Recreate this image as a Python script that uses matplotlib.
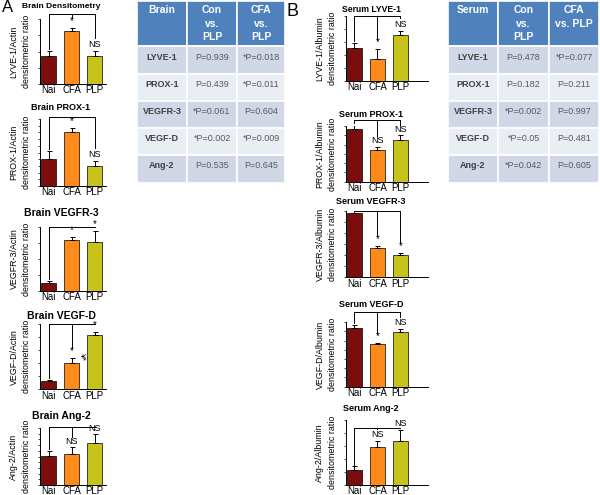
import matplotlib
matplotlib.use("Agg")
import matplotlib.pyplot as plt
from matplotlib.patches import Rectangle

plt.rcParams['font.family'] = ['Liberation Sans', 'DejaVu Sans']

# ---------------- data ----------------
groups = ["Nai", "CFA", "PLP"]
bar_colors = ["#7B0D0D", "#FF8A1C", "#C7C21C"]

brain_titles = ["Brain Densitometry", "Brain PROX-1", "Brain VEGFR-3", "Brain VEGF-D", "Brain Ang-2"]
brain_ylabels = ["LYVE-1/Actin", "PROX-1/Actin", "VEGFR-3/Actin", "VEGF-D/Actin", "Ang-2/Actin"]
brain_means = [[1.73, 3.27, 1.73], [0.41, 0.80, 0.30], [0.49, 3.20, 3.04], [0.64, 2.03, 4.15], [0.51, 0.55, 0.74]]
brain_errs = [[0.31, 0.20, 0.31], [0.11, 0.07, 0.08], [0.12, 0.19, 0.74], [0.08, 0.35, 0.25], [0.09, 0.11, 0.15]]
brain_ymax = [4, 1, 4, 5, 1]
brain_marks = [["", "*", "NS"], ["", "*", "NS"], ["", "*", "*"], ["", "*", "*"], ["", "NS", "NS"]]

serum_titles = ["Serum LYVE-1", "Serum PROX-1", "Serum VEGFR-3", "Serum VEGF-D", "Serum Ang-2"]
serum_ylabels = ["LYVE-1/Albumin", "PROX-1/Albumin", "VEGFR-3/Albumin", "VEGF-D/Albumin", "Ang-2/Albumin"]
serum_means = [[2.54, 1.64, 3.54], [5.71, 3.46, 4.46], [5.82, 2.64, 2.03], [6.41, 4.61, 5.90], [1.12, 2.90, 3.40]]
serum_errs = [[0.33, 0.77, 0.31], [0.40, 0.29, 0.54], [0.51, 0.18, 0.17], [0.29, 0.11, 0.40], [0.28, 0.48, 0.80]]
serum_ymax = [5, 6, 6, 7, 5]
serum_marks = [["", "*", "NS"], ["", "NS", "NS"], ["", "*", "*"], ["", "*", "NS"], ["", "NS", "NS"]]

table_rows = ["LYVE-1", "PROX-1", "VEGFR-3", "VEGF-D", "Ang-2"]
brain_header = ["Brain", "Con\nvs.\nPLP", "CFA\nvs.\nPLP"]
brain_con_p = ["P=0.939", "P=0.439", "*P=0.061", "*P=0.002", "P=0.535"]
brain_cfa_p = ["*P=0.018", "*P=0.011", "P=0.604", "*P=0.009", "P=0.645"]
serum_header = ["Serum", "Con\nvs.\nPLP", "CFA\nvs. PLP"]
serum_con_p = ["P=0.478", "P=0.182", "*P=0.002", "*P=0.05", "*P=0.042"]
serum_cfa_p = ["*P=0.077", "P=0.211", "P=0.997", "P=0.481", "P=0.605"]

# ---------------- layout (pixels) ----------------
W, H = 600, 495
fig = plt.figure(figsize=(6.0, 4.95), dpi=100)
fig.patch.set_facecolor("white")

bg = fig.add_axes([0, 0, 1, 1], zorder=0)
bg.set_xlim(0, W)
bg.set_ylim(H, 0)
bg.axis("off")

A_x = (40, 106)
B_x = (346, 428)
A_y = [(19, 84), (119, 186), (227, 290.7), (324, 389.3), (428, 485)]
B_y = [(15.7, 80.7), (126, 181.7), (211, 277.3), (322.3, 386.7), (420, 484.5)]
A_title_y = [7, 107, 213, 316, 416]
B_title_y = [9.5, 114.5, 201, 304.5, 408.5]
A_title_fs = [6.0, 6.5, 7.5, 7.5, 7.5]
B_title_fs = [6.2, 6.5, 6.5, 6.5, 6.5]
A_bracket = [1.075, 1.03, 1.0, 1.0, 1.02]
B_bracket = [1.0, 1.1, 1.0, 1.16, 0.88]


def add_ax(xr, yr):
    l = xr[0] / W
    b = 1 - yr[1] / H
    w = (xr[1] - xr[0]) / W
    h = (yr[1] - yr[0]) / H
    return fig.add_axes([l, b, w, h], zorder=2)


def draw_panel(xr, yr, xmax, means, errs, ymax, marks, ylabel, bfrac):
    ax = add_ax(xr, yr)
    xs = list(range(len(groups)))
    ax.bar(xs, means, width=0.65, color=bar_colors, edgecolor="black", linewidth=0.5,
           yerr=[[0] * len(errs), errs],
           error_kw=dict(ecolor="black", elinewidth=0.7, capsize=1.8, capthick=0.7))
    ax.set_xlim(-0.37, xmax)
    ax.set_ylim(0, ymax)
    for s in ("top", "right"):
        ax.spines[s].set_visible(False)
    for s in ("left", "bottom"):
        ax.spines[s].set_linewidth(0.7)
    ax.set_xticks(xs)
    ax.set_xticklabels(groups, fontsize=7)
    ax.tick_params(axis="x", length=0, pad=1)
    ax.tick_params(axis="y", length=1.5, width=0.5, labelleft=False)
    ax.set_yticks(range(0, int(ymax) + 1) if ymax > 1 else [i / 10 for i in range(11)])
    ax.set_ylabel(ylabel + "\ndensitometric ratio", fontsize=6.4, labelpad=5, linespacing=1.5)
    gap = 0.03 * ymax
    tops = []
    for i, (m, e, mk) in enumerate(zip(means, errs, marks)):
        top = m + e
        if mk == "*":
            ax.text(i, top + gap, mk, ha="center", va="bottom", fontsize=7, clip_on=False)
            top = top + gap + 0.09 * ymax
        elif mk:
            ax.text(i, top + gap, mk, ha="center", va="bottom", fontsize=6.5, clip_on=False)
            top = top + gap + 0.13 * ymax
        tops.append(top + gap)
    by = bfrac * ymax
    ax.plot([0, 2], [by, by], color="black", lw=0.7, clip_on=False)
    for i, t in enumerate(tops):
        if t < by:
            ax.plot([i, i], [by, t], color="black", lw=0.7, clip_on=False)
    return ax


for k in range(5):
    axA = draw_panel(A_x, A_y[k], 2.5, brain_means[k], brain_errs[k], brain_ymax[k],
                     brain_marks[k], brain_ylabels[k], A_bracket[k])
    bg.text(61, A_title_y[k], brain_titles[k], ha="center", va="center",
            fontsize=A_title_fs[k], fontweight="bold")
    if k == 3:
        ymx = brain_ymax[k]
        axA.text(1.42, brain_means[k][1] + brain_errs[k][1] + 0.02 * ymx, "¥*",
                 fontsize=6, rotation=-90, ha="center", va="center")
    draw_panel(B_x, B_y[k], 3.2, serum_means[k], serum_errs[k], serum_ymax[k],
               serum_marks[k], serum_ylabels[k], B_bracket[k])
    bg.text(371, B_title_y[k], serum_titles[k], ha="center", va="center",
            fontsize=B_title_fs[k], fontweight="bold")

bg.text(2, 7, "A", fontsize=12, ha="left", va="center")
bg.text(286, 12, "B", fontsize=13, ha="left", va="center")

# ---------------- tables ----------------
row_y = [1, 46, 74, 101, 128, 155, 183]
header_col = "#4F81BD"
row_cols = ["#D0D8E8", "#E9EDF4"]


def draw_table(cols_x, header, con_p, cfa_p):
    for c in range(3):
        x0, x1 = cols_x[c], cols_x[c + 1]
        bg.add_patch(Rectangle((x0, row_y[0]), x1 - x0, row_y[1] - row_y[0],
                               facecolor=header_col, edgecolor="white", lw=1.2))
        bg.text((x0 + x1) / 2, row_y[0] + 4, header[c], ha="center", va="top",
                fontsize=7.5, fontweight="bold", color="white", linespacing=1.45)
    for r in range(len(table_rows)):
        y0, y1 = row_y[r + 1], row_y[r + 2]
        vals = [table_rows[r], con_p[r], cfa_p[r]]
        for c in range(3):
            x0, x1 = cols_x[c], cols_x[c + 1]
            bg.add_patch(Rectangle((x0, y0), x1 - x0, y1 - y0,
                                   facecolor=row_cols[r % 2], edgecolor="white", lw=1.2))
            bg.text((x0 + x1) / 2, (y0 + y1) / 2 - 3, vals[c], ha="center", va="center",
                    fontsize=6.5, fontweight="bold" if c == 0 else "normal",
                    color="#404040" if c == 0 else "#595959")


draw_table([137, 187, 237, 285], brain_header, brain_con_p, brain_cfa_p)
draw_table([448, 498, 549, 599], serum_header, serum_con_p, serum_cfa_p)

fig.savefig("out.png", dpi=100)
